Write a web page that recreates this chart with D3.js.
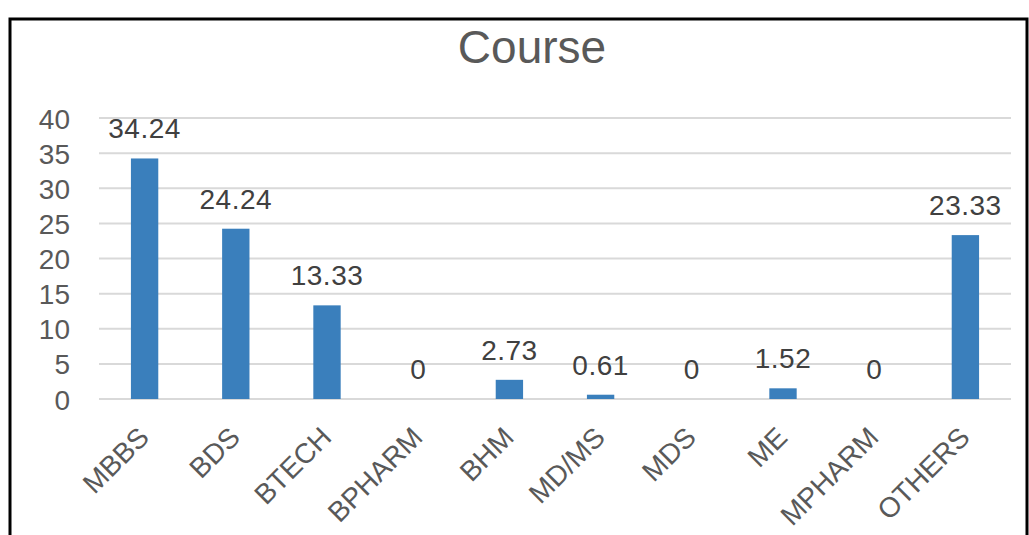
<!DOCTYPE html>
<html>
<head>
<meta charset="utf-8">
<script src="https://cdn.jsdelivr.net/npm/d3@7"></script>
<style>
  body { margin: 0; background: #fff; }
  text { font-family: "Liberation Sans", Arial, sans-serif; }
</style>
</head>
<body>
<script>
// chart data
var courses = ["MBBS", "BDS", "BTECH", "BPHARM", "BHM", "MD/MS", "MDS", "ME", "MPHARM", "OTHERS"];
var percents = [34.24, 24.24, 13.33, 0, 2.73, 0.61, 0, 1.52, 0, 23.33];
var yTicks = [0, 5, 10, 15, 20, 25, 30, 35, 40];

var W = 1029, H = 535;
var plotLeft = 99, plotRight = 1011, plotTop = 118, plotBottom = 399;

var svg = d3.select("body").append("svg")
    .attr("width", W)
    .attr("height", H);

svg.append("rect").attr("width", W).attr("height", H).attr("fill", "#fff");

// frame
svg.append("path")
    .attr("d", "M10,535 V19 H1027 V535")
    .attr("fill", "none")
    .attr("stroke", "#000")
    .attr("stroke-width", 3);

var x = d3.scaleBand().domain(courses).range([plotLeft, plotRight]).paddingInner(0.7).paddingOuter(0.35);
var y = d3.scaleLinear().domain([0, 40]).range([plotBottom, plotTop]);

// gridlines
svg.append("g").selectAll("line")
    .data(yTicks)
    .enter().append("line")
    .attr("x1", plotLeft).attr("x2", plotRight)
    .attr("y1", function (d) { return y(d); })
    .attr("y2", function (d) { return y(d); })
    .attr("stroke", "#d9d9d9")
    .attr("stroke-width", 2);

// y axis labels
var yAxis = svg.append("g")
    .attr("transform", "translate(70,0)")
    .call(d3.axisLeft(y).tickValues(yTicks).tickSize(0).tickPadding(0));
yAxis.select(".domain").remove();
yAxis.selectAll("text")
    .attr("fill", "#595959")
    .style("font-size", "28px")
    .style("font-family", "'Liberation Sans', Arial, sans-serif")
    .attr("dy", "0.36em");

// bars
svg.append("g").selectAll("rect")
    .data(percents)
    .enter().append("rect")
    .attr("x", function (d, i) { return x(courses[i]); })
    .attr("width", x.bandwidth())
    .attr("y", function (d) { return y(d); })
    .attr("height", function (d) { return y(0) - y(d); })
    .attr("fill", "#3a7fbc");

// value labels
svg.append("g").selectAll("text")
    .data(percents)
    .enter().append("text")
    .attr("x", function (d, i) { return x(courses[i]) + x.bandwidth() / 2; })
    .attr("y", function (d) { return y(d) - 20; })
    .attr("text-anchor", "middle")
    .attr("fill", "#404040")
    .style("font-size", "28px")
    .style("letter-spacing", "0.5px")
    .text(function (d) { return d; });

// x axis labels, rotated
var xAxis = svg.append("g")
    .attr("transform", "translate(0," + plotBottom + ")")
    .call(d3.axisBottom(x).tickSize(0).tickPadding(0));
xAxis.select(".domain").remove();
xAxis.selectAll("text")
    .attr("fill", "#595959")
    .style("font-size", "28px")
    .style("font-family", "'Liberation Sans', Arial, sans-serif")
    .attr("text-anchor", "end")
    .attr("dy", null)
    .attr("y", 0)
    .attr("transform", "translate(6,40) rotate(-45)");

// title
svg.append("text")
    .attr("x", 532)
    .attr("y", 63)
    .attr("text-anchor", "middle")
    .attr("fill", "#595959")
    .style("font-size", "46px")
    .text("Course");
</script>
</body>
</html>
